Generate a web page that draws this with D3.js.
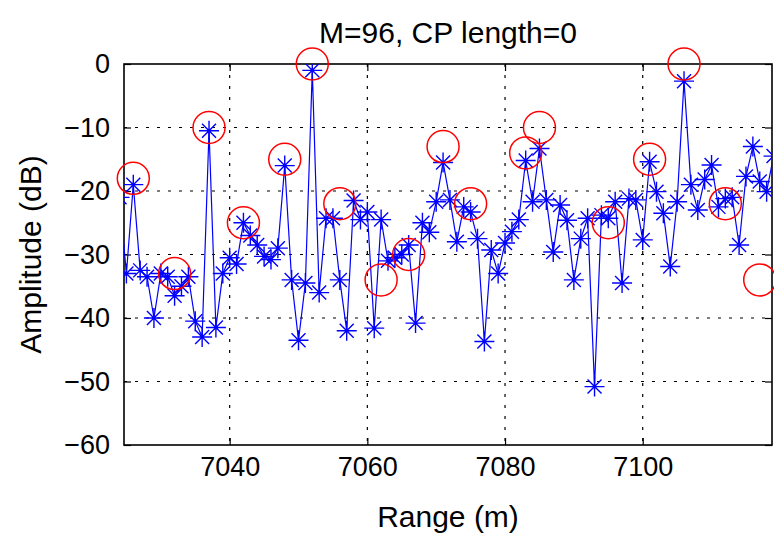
<!DOCTYPE html>
<html>
<head>
<meta charset="utf-8">
<script src="https://cdn.jsdelivr.net/npm/d3@7"></script>
<style>
  body { margin: 0; background: #fff; }
  svg { display: block; }
  text { font-family: "Liberation Sans", Arial, sans-serif; fill: #000; }
</style>
</head>
<body>
<div id="chart"></div>
<script>
// Sampled range profile, one sample per metre starting at rangeStart
const rangeStart = 7024;
const amplitude = [
  -21, -33, -19, -32.5, -33.5, -40, -33, -33.5, -36.5, -35,
  -33.5, -40.5, -43, -10.5, -41.5, -33, -30.5, -31.5, -25, -27,
  -28.5, -30.3, -30.8, -29, -16, -34, -43.5, -34.5, -1, -36,
  -24.3, -24.3, -34, -42, -21.5, -24.5, -23.3, -41.6, -24.5, -31,
  -30.5, -30, -28.5, -40.8, -25, -26.5, -21.7, -15.5, -21.4, -28,
  -22.5, -23.3, -27.5, -43.7, -29.3, -33, -28.2, -26.4, -24.5, -15.2,
  -21.7, -13.3, -21.4, -29.6, -22.2, -24.6, -34, -27.5, -24.3, -50.8,
  -23.8, -24.3, -21.7, -34.5, -21.2, -21.4, -27.7, -15.4, -20.1, -23.5,
  -31.9, -21.7, -2.7, -19, -23, -18.2, -15.9, -22.5, -21.2, -21,
  -28.5, -17.7, -13, -18.5, -20.1, -14.5
];

// True target positions (red circles)
const targetRange = [7026, 7032, 7037, 7042, 7048, 7052, 7056, 7062, 7066,
  7071, 7075, 7083, 7085, 7095, 7101, 7106, 7112, 7117];
const targetAmp = [-18, -33, -10, -25, -15, 0, -22, -34, -30,
  -13, -22, -14, -10, -25, -15, 0, -22, -34];

const xTicks = [7040, 7060, 7080, 7100];
const yTicks = [-60, -50, -40, -30, -20, -10, 0];

const width = 774, height = 534;
const margin = { top: 64, right: 2, bottom: 89, left: 124 };
const innerW = width - margin.left - margin.right;
const innerH = height - margin.top - margin.bottom;

const samples = amplitude.map((a, i) => ({ r: rangeStart + i, a: a }));
const targets = targetRange.map((r, i) => ({ r: r, a: targetAmp[i] }));

const svg = d3.select("#chart").append("svg")
  .attr("width", width)
  .attr("height", height);

const g = svg.append("g")
  .attr("transform", `translate(${margin.left},${margin.top})`);

const x = d3.scaleLinear().domain([7024.65, 7118.78]).range([0, innerW]);
const y = d3.scaleLinear().domain([-60, 0]).range([innerH, 0]);

svg.append("defs").append("clipPath")
  .attr("id", "plot-clip")
  .append("rect")
  .attr("width", innerW)
  .attr("height", innerH);

// Grid lines (dotted)
g.append("g")
  .selectAll("line")
  .data(xTicks)
  .join("line")
  .attr("x1", d => x(d)).attr("x2", d => x(d))
  .attr("y1", 0).attr("y2", innerH)
  .attr("stroke", "#000")
  .attr("stroke-width", 1.2)
  .attr("stroke-dasharray", "3,8");

g.append("g")
  .selectAll("line")
  .data(yTicks.filter(d => d > -60 && d < 0))
  .join("line")
  .attr("x1", 0).attr("x2", innerW)
  .attr("y1", d => y(d)).attr("y2", d => y(d))
  .attr("stroke", "#000")
  .attr("stroke-width", 1.2)
  .attr("stroke-dasharray", "3,8");

// Axes
const xAxis = g.append("g")
  .attr("transform", `translate(0,${innerH})`)
  .call(d3.axisBottom(x).tickValues(xTicks).tickSize(-7).tickPadding(12).tickFormat(d3.format("d")));
const yAxis = g.append("g")
  .call(d3.axisLeft(y).tickValues(yTicks).tickSize(-7).tickPadding(14));
g.append("g")
  .call(d3.axisTop(x).tickValues(xTicks).tickSize(-7).tickFormat(""));
g.append("g")
  .attr("transform", `translate(${innerW},0)`)
  .call(d3.axisRight(y).tickValues(yTicks).tickSize(-7).tickFormat(""));

g.selectAll(".domain").remove();
g.selectAll(".tick line").attr("stroke", "#000").attr("stroke-width", 1.2);
g.selectAll(".tick text")
  .attr("font-family", "Liberation Sans, Arial, sans-serif")
  .attr("font-size", "27px")
  .attr("fill", "#000");

// Box
g.append("rect")
  .attr("width", innerW)
  .attr("height", innerH)
  .attr("fill", "none")
  .attr("stroke", "#000")
  .attr("stroke-width", 1.6);

// Data line + star markers
const plot = g.append("g").attr("clip-path", "url(#plot-clip)");

const line = d3.line()
  .x(d => x(d.r))
  .y(d => y(d.a));

plot.append("path")
  .datum(samples)
  .attr("fill", "none")
  .attr("stroke", "#0000ff")
  .attr("stroke-width", 1.2)
  .attr("d", line);

const star = "M-10,0H10M0,-10V10M-7,-7L7,7M-7,7L7,-7";
plot.selectAll(".star")
  .data(samples)
  .join("path")
  .attr("class", "star")
  .attr("transform", d => `translate(${x(d.r)},${y(d.a)})`)
  .attr("d", star)
  .attr("fill", "none")
  .attr("stroke", "#0000ff")
  .attr("stroke-width", 1.4);

// Target circles
g.selectAll(".target")
  .data(targets)
  .join("circle")
  .attr("class", "target")
  .attr("cx", d => x(d.r))
  .attr("cy", d => y(d.a))
  .attr("r", 16)
  .attr("fill", "none")
  .attr("stroke", "#ff0000")
  .attr("stroke-width", 1.5);

// Title and axis labels
svg.append("text")
  .attr("x", margin.left + innerW / 2)
  .attr("y", 43)
  .attr("text-anchor", "middle")
  .attr("font-size", "30px")
  .text("M=96, CP length=0");

svg.append("text")
  .attr("x", margin.left + innerW / 2)
  .attr("y", 527)
  .attr("text-anchor", "middle")
  .attr("font-size", "30px")
  .text("Range (m)");

svg.append("text")
  .attr("transform", "rotate(-90)")
  .attr("x", -(margin.top + innerH / 2))
  .attr("y", 41)
  .attr("text-anchor", "middle")
  .attr("font-size", "30px")
  .text("Amplitude (dB)");
</script>
</body>
</html>
